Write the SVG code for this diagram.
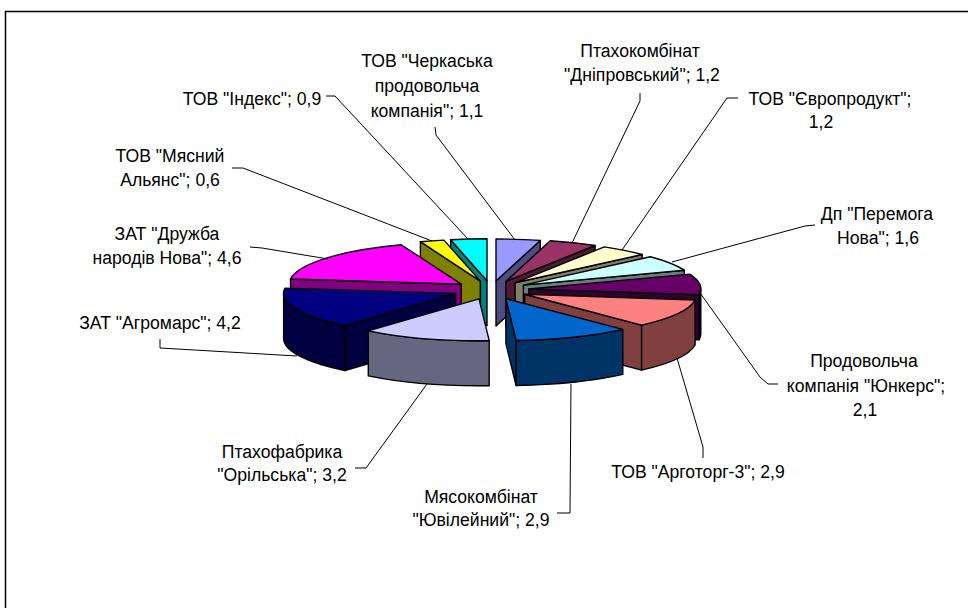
<svg xmlns="http://www.w3.org/2000/svg" width="968" height="608" viewBox="0 0 968 608">
<style>
.lbl{font-family:"Liberation Sans",Arial,sans-serif;font-size:17.6px;fill:#000;text-anchor:middle}
.pc path{stroke:#000;stroke-width:1.4;stroke-linejoin:round}
.ld{fill:none;stroke:#000;stroke-width:1}
.frame{fill:none;stroke:#000;stroke-width:1.5}
</style>
<rect width="968" height="608" fill="#fff"/>
<path class="frame" d="M5.5,608 L5.5,11.5 L968,11.5"/>

<g id="s-indeks" class="pc">
<path fill="#008080" d="M487,280.8 L450.6,239.8 L450.6,284.8 L487,325.8 Z"/>
<path fill="#00FFFF" d="M487,280.8 L450.6,239.8 A172,42 0 0 1 487,238.8 Z"/>
</g>
<g id="s-cherkaska" class="pc">
<path fill="#4D4D80" d="M496,281 L540.3,240.4 L540.3,285.4 L496,326 Z"/>
<path fill="#9999FF" d="M496,281 L496,239 A172,42 0 0 1 540.3,240.4 Z"/>
</g>
<g id="s-myasnyi" class="pc">
<path fill="#808000" d="M480.3,281.1 L420.4,241.7 L420.4,286.7 L480.3,326.1 Z"/>
<path fill="#FFFF00" d="M480.3,281.1 L420.4,241.7 A172,42 0 0 1 443.9,240.1 Z"/>
</g>
<g id="s-dniprovskyi" class="pc">
<path fill="#4D1A33" d="M505.9,281.4 L595.1,245.5 L595.1,290.5 L505.9,326.4 Z"/>
<path fill="#993366" d="M505.9,281.4 L550.2,240.8 A172,42 0 0 1 595.1,245.5 Z"/>
</g>
<g id="s-yevroprodukt" class="pc">
<path fill="#808066" d="M515.1,282.8 L642.1,254.5 L642.1,299.5 L515.1,327.8 Z"/>
<path fill="#FFFFCC" d="M515.1,282.8 L604.3,246.9 A172,42 0 0 1 642.1,254.5 Z"/>
</g>
<g id="s-druzhba" class="pc">
<path fill="#800080" d="M461.2,284.2 L290.5,279 L290.5,324 L461.2,329.2 Z"/>
<path fill="#FF00FF" d="M461.2,284.2 L290.5,279 A172,42 0 0 1 401.3,244.8 Z"/>
</g>
<g id="s-peremoga" class="pc">
<path fill="#668080" d="M523.4,285.1 L684.3,270.2 L684.3,315.2 L523.4,330.1 Z"/>
<path fill="#CCFFFF" d="M523.4,285.1 L650.4,256.8 A172,42 0 0 1 684.3,270.2 Z"/>
</g>
<g id="s-yunkers" class="pc">
<path fill="#330033" d="M528.8,289 L699.2,294.7 L699.2,339.7 L528.8,334 Z"/>
<path fill="#330033" d="M700.8,289 A172,42 0 0 1 699.2,294.7 L699.2,339.7 A172,42 0 0 0 700.8,334 Z"/>
<path fill="#660066" d="M528.8,289 L689.7,274.1 A172,42 0 0 1 699.2,294.7 Z"/>
</g>
<g id="s-ahromars" class="pc">
<path fill="#000040" d="M455.6,293.4 L344.9,325.5 L344.9,370.5 L455.6,338.4 Z"/>
<path fill="#000040" d="M344.9,325.5 A172,42 0 0 1 283.6,293.4 L283.6,338.4 A172,42 0 0 0 344.9,370.5 Z"/>
<path fill="#000080" d="M455.6,293.4 L344.9,325.5 A172,42 0 0 1 284.9,288.2 Z"/>
</g>
<g id="s-arhotorh" class="pc">
<path fill="#804040" d="M524.7,294.3 L641.6,325.1 L641.6,370.1 L524.7,339.3 Z"/>
<path fill="#804040" d="M695.1,300 A172,42 0 0 1 641.6,325.1 L641.6,370.1 A172,42 0 0 0 695.1,345 Z"/>
<path fill="#FF8080" d="M524.7,294.3 L695.1,300 A172,42 0 0 1 641.6,325.1 Z"/>
</g>
<g id="s-yuvileinyi" class="pc">
<path fill="#003366" d="M505.9,298.6 L516.1,340.5 L516.1,385.5 L505.9,343.6 Z"/>
<path fill="#003366" d="M622.8,329.4 A172,42 0 0 1 516.1,340.5 L516.1,385.5 A172,42 0 0 0 622.8,374.4 Z"/>
<path fill="#0066CC" d="M505.9,298.6 L622.8,329.4 A172,42 0 0 1 516.1,340.5 Z"/>
</g>
<g id="s-orilska" class="pc">
<path fill="#666680" d="M489.2,340.7 A172,42 0 0 1 368.3,330.9 L368.3,375.9 A172,42 0 0 0 489.2,385.7 Z"/>
<path fill="#CCCCFF" d="M479,298.8 L489.2,340.7 A172,42 0 0 1 368.3,330.9 Z"/>
</g>

<g id="connectors">
<path class="ld" d="M435,127 L436,135 L515,240"/>
<path class="ld" d="M640,93 L640,101 L572,243"/>
<path class="ld" d="M738,98 L727,98 L622,250"/>
<path class="ld" d="M815,225 L805,226 L672,262"/>
<path class="ld" d="M778,384 L768,384 L760,377 L698,290"/>
<path class="ld" d="M703,458 L703,447 L677,358"/>
<path class="ld" d="M557,513 L570,513 L571,384"/>
<path class="ld" d="M355,468 L366,468 L427,384"/>
<path class="ld" d="M160,339 L160,348 L297,356"/>
<path class="ld" d="M250,247 L262,248 L328,259"/>
<path class="ld" d="M232,168 L243,168 L432,241"/>
<path class="ld" d="M326,96 L335,96 L468,239"/>
</g>

<g id="labels">
<g id="l-cherkaska"><text class="lbl" x="427" y="67">ТОВ "Черкаська</text><text class="lbl" x="427" y="92">продовольча</text><text class="lbl" x="427" y="117">компанія"; 1,1</text></g>
<g id="l-dniprovskyi"><text class="lbl" x="640" y="57">Птахокомбінат</text><text class="lbl" x="642" y="81">"Дніпровський"; 1,2</text></g>
<g id="l-yevroprodukt"><text class="lbl" x="830" y="105">ТОВ "Європродукт";</text><text class="lbl" x="821" y="128">1,2</text></g>
<g id="l-peremoga"><text class="lbl" x="877" y="220">Дп "Перемога</text><text class="lbl" x="878" y="244">Нова"; 1,6</text></g>
<g id="l-yunkers"><text class="lbl" x="864" y="367">Продовольча</text><text class="lbl" x="866" y="392">компанія "Юнкерс";</text><text class="lbl" x="865" y="416">2,1</text></g>
<g id="l-arhotorh"><text class="lbl" x="698" y="478">ТОВ "Арготорг-3"; 2,9</text></g>
<g id="l-yuvileinyi"><text class="lbl" x="481" y="503">Мясокомбінат</text><text class="lbl" x="481" y="526">"Ювілейний"; 2,9</text></g>
<g id="l-orilska"><text class="lbl" x="282" y="458">Птахофабрика</text><text class="lbl" x="282" y="481">"Орільська"; 3,2</text></g>
<g id="l-ahromars"><text class="lbl" x="160" y="329">ЗАТ "Агромарс"; 4,2</text></g>
<g id="l-druzhba"><text class="lbl" x="167" y="240">ЗАТ "Дружба</text><text class="lbl" x="167" y="264">народів Нова"; 4,6</text></g>
<g id="l-myasnyi"><text class="lbl" x="170" y="162">ТОВ "Мясний</text><text class="lbl" x="170" y="186">Альянс"; 0,6</text></g>
<g id="l-indeks"><text class="lbl" x="252" y="105">ТОВ "Індекс"; 0,9</text></g>
</g>
</svg>
